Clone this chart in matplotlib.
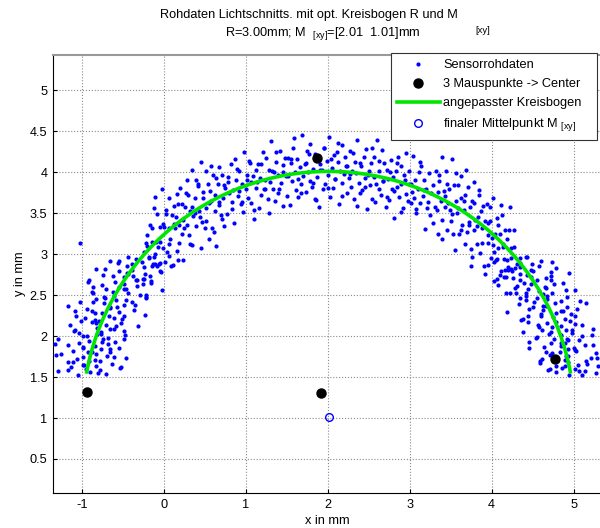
import matplotlib.pyplot as plt
from matplotlib.patches import Arc
from matplotlib.lines import Line2D

plt.rcParams['font.family'] = ['Liberation Sans', 'DejaVu Sans']
plt.rcParams['mathtext.fontset'] = 'custom'
plt.rcParams['mathtext.rm'] = 'Liberation Sans'
plt.rcParams['mathtext.it'] = 'Liberation Sans'
plt.rcParams['axes.unicode_minus'] = False

# raw sensor points
left_x = [-1.05, -0.70, -0.90, -1.29, -0.78, -0.95, -0.53, -1.13, -0.83, -0.99, -0.63, -1.17, -0.91, -0.78, -1.06,
          -0.46, -0.99, -0.69, -1.31, -0.82, -0.92, -0.66, -1.11, -0.76, -0.54, -0.99, -0.84, -1.17, -0.68, -1.03,
          -0.59, -0.91, -0.74, -1.29, -0.68, -0.93, -0.47, -0.81, -1.03, -0.76, -0.49, -1.08, -0.66, -0.81, -0.58,
          -1.14, -0.70, -0.52, -0.88, -0.79,
          -0.84, -0.51, -0.96, -0.67, -1.07, -0.23, -0.75, -0.55, -0.88, -0.36, -0.94, -0.65, -0.57, -1.17, -0.48,
          -0.73, -0.39, -1.02, -0.58, -0.82, -0.21, -0.73, -0.60, -0.29, -0.86, -0.44, -0.62, -0.02, -0.70, -0.46,
          -0.86, -0.32, -0.75, -0.48, -0.15, -0.59, -0.33, -0.91, -0.24, -0.49, -0.37, -0.74, -0.23, -0.45, -0.03,
          -0.55, -0.39, -0.83, -0.24, -0.08, -0.45, -0.11, -0.56, -0.27, -0.65, 0.18, -0.34, -0.12, -0.44, 0.07,
          -1.02,
          -0.80, -1.17, -0.52, -0.97, -1.10, -0.84, -0.61, -1.25, -0.88, -0.65, -0.98, -1.32, -0.75, -0.49, -0.99,
          -0.76, -1.09, -0.60, -0.31, -0.83, -1.01, -0.61, -0.48, -0.84, -1.08, -0.66, -0.35, -0.86, -0.46, -0.71,
          -0.21, -0.88, -0.48, -0.55, -0.25, -0.92, -0.34, -0.62, -0.43, -0.05, -0.72, -0.14, -0.39, -0.54, -0.18]
left_y = [1.53, 1.54, 1.56, 1.57, 1.58, 1.60, 1.61, 1.62, 1.64, 1.65, 1.66, 1.68, 1.69, 1.70, 1.72,
          1.73, 1.74, 1.76, 1.77, 1.78, 1.80, 1.81, 1.82, 1.84, 1.85, 1.86, 1.88, 1.89, 1.90, 1.92,
          1.93, 1.94, 1.96, 1.97, 1.98, 2.00, 2.01, 2.02, 2.04, 2.05, 2.06, 2.08, 2.09, 2.10, 2.12,
          2.13, 2.14, 2.16, 2.17, 2.18,
          2.20, 2.21, 2.22, 2.24, 2.25, 2.26, 2.28, 2.29, 2.30, 2.32, 2.33, 2.34, 2.36, 2.37, 2.38,
          2.40, 2.41, 2.42, 2.44, 2.45, 2.46, 2.48, 2.49, 2.50, 2.52, 2.53, 2.54, 2.56, 2.57, 2.58,
          2.60, 2.61, 2.62, 2.64, 2.65, 2.66, 2.68, 2.69, 2.70, 2.72, 2.73, 2.74, 2.76, 2.77, 2.78,
          2.80, 2.81, 2.82, 2.84, 2.85, 2.86, 2.88, 2.89, 2.90, 2.92, 2.93, 2.94, 2.96, 2.97, 2.98,
          3.13,
          1.55, 1.59, 1.62, 1.65, 1.68, 1.71, 1.74, 1.78, 1.81, 1.84, 1.87, 1.90, 1.93, 1.97, 2.00,
          2.03, 2.06, 2.09, 2.12, 2.16, 2.19, 2.22, 2.25, 2.28, 2.31, 2.35, 2.38, 2.41, 2.44, 2.47,
          2.50, 2.54, 2.57, 2.60, 2.63, 2.66, 2.69, 2.73, 2.76, 2.79, 2.82, 2.85, 2.88, 2.92, 2.95]

upleft_x = [-0.25, -0.24, -0.22, -0.21, -0.20, -0.18, -0.17, -0.16, -0.14, -0.13, -0.12, -0.10, -0.09, -0.08, -0.06,
            -0.05, -0.04, -0.02, -0.01, 0.00, 0.02, 0.03, 0.04, 0.06, 0.07, 0.08, 0.10, 0.11, 0.12, 0.14,
            0.15, 0.16, 0.18, 0.19, 0.20, 0.22, 0.23, 0.24, 0.26, 0.27, 0.28, 0.30, 0.31, 0.32, 0.34,
            0.35, 0.36, 0.38, 0.39, 0.40, 0.42, 0.43, 0.44, 0.46, 0.47, 0.48, 0.50, 0.51, 0.52, 0.54,
            0.55, 0.56, 0.58, 0.59, 0.60, 0.62, 0.63, 0.64, 0.66, 0.67, 0.68, 0.70, 0.71, 0.72, 0.74,
            -0.20, -0.17, -0.14, -0.10, -0.07, -0.04, -0.01, 0.03, 0.06, 0.09, 0.12, 0.16, 0.19, 0.22, 0.25,
            0.29, 0.32, 0.35, 0.38, 0.42, 0.45, 0.48, 0.51, 0.55, 0.58, 0.61, 0.64, 0.68, 0.71, 0.74]
upleft_y = [2.70, 3.02, 3.13, 2.48, 3.23, 2.97, 3.35, 2.67, 3.15, 2.88, 3.56, 3.00, 3.15, 3.49, 2.88,
            3.33, 3.15, 3.80, 3.07, 3.33, 2.90, 3.49, 3.02, 3.32, 3.69, 3.19, 3.48, 2.87, 3.59, 3.32,
            3.45, 3.04, 3.61, 3.36, 3.81, 3.25, 3.42, 2.93, 3.58, 3.75, 3.35, 3.72, 3.23, 3.53, 3.11,
            4.03, 3.46, 3.69, 3.34, 3.90, 3.83, 3.53, 3.45, 4.13, 3.39, 3.68, 3.32, 4.02, 3.56, 3.85,
            3.19, 3.77, 3.65, 3.32, 3.96, 3.53, 3.72, 3.10, 3.85, 3.60, 4.06, 3.48, 3.96, 3.69, 3.34,
            3.10, 2.73, 3.32, 3.70, 3.09, 2.89, 3.37, 3.54, 3.12, 2.86, 3.37, 3.73, 3.14, 3.61, 3.32,
            3.91, 3.12, 3.58, 3.50, 3.86, 3.07, 3.76, 3.41, 3.63, 4.07, 3.27, 3.93, 3.64, 3.43, 3.84]

top_x = [0.75, 0.77, 0.79, 0.80, 0.82, 0.83, 0.85, 0.86, 0.88, 0.89, 0.91, 0.92, 0.94, 0.95, 0.97,
         0.98, 1.00, 1.01, 1.03, 1.04, 1.06, 1.07, 1.09, 1.10, 1.12, 1.13, 1.15, 1.16, 1.18, 1.19,
         1.21, 1.22, 1.24, 1.25, 1.27, 1.28, 1.30, 1.31, 1.33, 1.34, 1.36, 1.37, 1.39, 1.40, 1.42,
         1.43, 1.45, 1.46, 1.48, 1.49,
         1.51, 1.52, 1.54, 1.55, 1.57, 1.58, 1.60, 1.61, 1.63, 1.64, 1.66, 1.67, 1.69, 1.70, 1.72,
         1.73, 1.75, 1.76, 1.78, 1.79, 1.81, 1.82, 1.84, 1.85, 1.87, 1.88, 1.90, 1.91, 1.93, 1.94,
         1.96, 1.97, 1.99, 2.00, 2.02, 2.03, 2.05, 2.06, 2.08, 2.09, 2.11, 2.12, 2.14, 2.15, 2.17,
         2.18, 2.20, 2.21, 2.23, 2.24,
         2.26, 2.27, 2.29, 2.30, 2.32, 2.33, 2.35, 2.36, 2.38, 2.39, 2.41, 2.42, 2.44, 2.45, 2.47,
         2.48, 2.50, 2.51, 2.53, 2.54, 2.56, 2.57, 2.59, 2.60, 2.62, 2.63, 2.65, 2.66, 2.68, 2.69,
         2.71, 2.72, 2.74, 2.75, 2.77, 2.78, 2.80, 2.81, 2.83, 2.84, 2.86, 2.87, 2.89, 2.90, 2.92,
         2.93, 2.95, 2.96, 2.98, 2.99,
         3.01, 3.02, 3.04, 3.05, 3.07, 3.08, 3.10, 3.11, 3.13, 3.14, 3.16, 3.17, 3.19, 3.20, 3.22,
         3.23, 3.25, 3.26, 3.28, 3.29,
         0.78, 0.83, 0.87, 0.92, 0.96, 1.01, 1.05, 1.10, 1.14, 1.19, 1.23, 1.28, 1.32, 1.37, 1.41,
         1.46, 1.50, 1.55, 1.59, 1.64, 1.68, 1.73, 1.77, 1.82, 1.86, 1.91, 1.95, 2.00, 2.04, 2.09,
         2.13, 2.18, 2.22, 2.27, 2.31, 2.36, 2.40, 2.45, 2.49, 2.54, 2.58, 2.63, 2.67, 2.72, 2.76,
         2.81, 2.85, 2.90, 2.94, 2.99, 3.03, 3.08, 3.12, 3.17, 3.21]
top_y = [3.81, 3.49, 3.94, 3.74, 4.10, 3.64, 3.78, 3.38, 3.90, 4.04, 3.71, 4.01, 3.61, 3.86, 3.51,
         4.25, 3.79, 3.96, 3.69, 4.14, 3.63, 3.88, 3.95, 3.43, 4.03, 3.81, 4.10, 3.56, 3.93, 3.72,
         4.25, 3.79, 3.91, 4.17, 3.67, 4.03, 3.88, 4.38, 3.80, 4.00, 3.65, 4.12, 3.75, 3.97, 4.26,
         3.87, 4.09, 3.59, 4.17, 3.95,
         3.95, 4.17, 3.60, 4.11, 3.89, 4.29, 4.00, 3.78, 4.16, 3.70, 4.06, 3.86, 4.45, 3.95, 4.10,
         3.76, 4.26, 4.00, 3.89, 4.35, 3.82, 4.04, 3.67, 4.22, 3.94, 4.16, 3.57, 4.10, 4.03, 3.79,
         4.30, 3.86, 4.14, 3.97, 4.43, 3.70, 4.05, 3.81, 4.21, 3.92, 4.25, 4.12, 3.61, 4.01, 3.87,
         4.33, 3.98, 4.18, 3.74, 4.07,
         3.93, 4.26, 3.82, 4.02, 3.67, 4.12, 3.99, 4.39, 3.87, 3.74, 4.07, 3.78, 4.18, 3.93, 4.28,
         3.55, 4.01, 3.84, 4.11, 3.67, 4.18, 3.94, 3.86, 4.39, 3.80, 4.01, 3.72, 4.27, 3.89, 4.11,
         3.58, 4.03, 3.92, 3.66, 4.15, 3.80, 3.94, 3.44, 4.02, 3.82, 4.18, 3.70, 4.08, 3.86, 3.56,
         3.96, 3.73, 4.23, 3.65, 3.86,
         3.86, 3.63, 4.20, 3.69, 3.91, 3.50, 3.79, 4.00, 3.62, 4.08, 3.71, 3.91, 3.31, 3.80, 3.64,
         3.99, 3.48, 3.74, 3.84, 3.38,
         3.88, 3.55, 4.16, 3.77, 3.64, 3.90, 4.11, 3.54, 3.88, 4.10, 3.80, 3.50, 4.02, 4.25, 3.80,
         4.00, 3.71, 4.16, 4.42, 3.92, 3.75, 4.11, 4.22, 3.87, 3.66, 4.03, 4.30, 3.81, 4.16, 3.92,
         4.36, 3.71, 4.07, 3.98, 4.24, 3.59, 4.11, 3.82, 3.97, 4.29, 3.64, 4.14, 3.89, 3.70, 4.00,
         3.77, 4.11, 3.51, 3.90, 4.02, 3.76, 3.55, 4.13, 3.78, 3.56]

upright_x = [3.31, 3.32, 3.34, 3.35, 3.36, 3.38, 3.39, 3.40, 3.42, 3.43, 3.44, 3.46, 3.47, 3.48, 3.50,
             3.51, 3.52, 3.54, 3.55, 3.56, 3.58, 3.59, 3.60, 3.62, 3.63, 3.64, 3.66, 3.67, 3.68, 3.70,
             3.71, 3.72, 3.74, 3.75, 3.76, 3.78, 3.79, 3.80, 3.82, 3.83, 3.84, 3.86, 3.87, 3.88, 3.90,
             3.91, 3.92, 3.94, 3.95, 3.96, 3.98, 3.99, 4.00, 4.02, 4.03, 4.04, 4.06, 4.07, 4.08, 4.10,
             4.11, 4.12, 4.14, 4.15, 4.16, 4.18, 4.19, 4.20, 4.22, 4.23, 4.24, 4.26, 4.27, 4.28, 4.30,
             3.33, 3.36, 3.40, 3.43, 3.46, 3.49, 3.53, 3.56, 3.59, 3.62, 3.66, 3.69, 3.72, 3.75, 3.79,
             3.82, 3.85, 3.88, 3.92, 3.95, 3.98, 4.01, 4.05, 4.08, 4.11, 4.14, 4.18, 4.21, 4.24, 4.27]
upright_y = [3.58, 4.02, 3.76, 3.25, 3.89, 3.65, 4.18, 3.42, 3.77, 3.57, 4.01, 3.30, 3.63, 3.79, 3.41,
             4.16, 3.49, 3.84, 3.05, 3.65, 3.50, 3.84, 3.24, 3.68, 3.95, 3.35, 3.54, 3.12, 3.72, 3.27,
             3.82, 3.39, 3.57, 2.86, 3.65, 3.29, 3.88, 3.42, 3.12, 3.45, 3.78, 3.01, 3.53, 3.32, 3.59,
             2.85, 3.40, 3.61, 3.13, 3.23, 3.41, 2.95, 3.20, 3.69, 3.03, 3.25, 2.70, 3.44, 3.07, 3.24,
             2.79, 3.48, 3.12, 2.94, 3.30, 2.52, 3.18, 2.81, 3.57, 2.95, 3.08, 2.71, 3.29, 2.83, 2.53,
             3.54, 3.97, 3.19, 3.71, 3.86, 3.54, 3.25, 3.99, 3.56, 3.29, 3.65, 4.03, 3.36, 3.06, 3.63,
             3.34, 3.72, 3.13, 2.76, 3.38, 3.58, 3.11, 2.93, 3.35, 3.60, 3.09, 2.72, 3.30, 2.82, 3.09]

right_x = [5.10, 4.94, 5.27, 4.78, 5.14, 4.69, 5.02, 4.86, 5.30, 4.79, 5.05, 4.59, 4.93, 5.15, 4.89,
           4.61, 5.21, 4.79, 4.93, 4.71, 5.27, 4.83, 4.66, 5.02, 4.93, 5.00, 4.64, 4.84, 5.23, 4.72,
           4.89, 4.46, 5.06, 4.76, 4.92, 4.55, 5.10, 4.84, 4.70, 4.98, 4.38, 4.91, 4.61, 5.23, 4.73,
           4.84, 4.57, 5.02, 4.67, 4.44,
           4.96, 4.36, 4.89, 4.75, 4.44, 5.02, 4.60, 4.78, 4.19, 4.87, 4.63, 5.04, 4.50, 4.92, 4.66,
           4.33, 4.77, 4.51, 5.08, 4.42, 4.67, 4.55, 4.92, 4.42, 4.63, 4.22, 4.74, 4.58, 5.02, 4.44,
           4.28, 4.65, 4.31, 4.76, 4.48, 4.87, 4.03, 4.55, 4.35, 4.66, 4.15, 4.72, 4.43, 4.35, 4.94,
           4.25, 4.50, 4.16, 4.78, 4.34, 4.58, 3.96, 4.49, 4.35, 4.03, 4.60, 4.19, 4.35, 3.76, 4.43,
           5.06, 4.71, 4.89, 5.16, 4.59, 5.28, 4.91, 4.73, 5.03, 4.45, 5.14, 4.85, 4.93, 4.54, 5.22,
           4.72, 4.98, 4.58, 5.10, 4.79, 4.38, 4.60, 4.97, 4.84, 4.45, 4.62, 5.15, 4.84, 4.34, 4.67,
           4.42, 4.91, 4.66, 4.08, 4.40, 4.72, 4.48, 4.10, 4.72, 4.48, 4.20, 4.31, 4.74, 4.07, 4.42]
right_y = [1.52, 1.53, 1.55, 1.56, 1.57, 1.59, 1.60, 1.61, 1.63, 1.64, 1.65, 1.67, 1.68, 1.69, 1.71,
           1.72, 1.73, 1.75, 1.76, 1.77, 1.79, 1.80, 1.81, 1.83, 1.84, 1.85, 1.87, 1.88, 1.89, 1.91,
           1.92, 1.93, 1.95, 1.96, 1.97, 1.99, 2.00, 2.01, 2.03, 2.04, 2.05, 2.07, 2.08, 2.09, 2.11,
           2.12, 2.13, 2.15, 2.16, 2.17,
           2.19, 2.20, 2.21, 2.23, 2.24, 2.25, 2.27, 2.28, 2.29, 2.31, 2.32, 2.33, 2.35, 2.36, 2.37,
           2.39, 2.40, 2.41, 2.43, 2.44, 2.45, 2.47, 2.48, 2.49, 2.51, 2.52, 2.53, 2.55, 2.56, 2.57,
           2.59, 2.60, 2.61, 2.63, 2.64, 2.65, 2.67, 2.68, 2.69, 2.71, 2.72, 2.73, 2.75, 2.76, 2.77,
           2.79, 2.80, 2.81, 2.83, 2.84, 2.85, 2.87, 2.88, 2.89, 2.91, 2.92, 2.93, 2.95, 2.96, 2.97,
           1.57, 1.60, 1.63, 1.66, 1.70, 1.73, 1.76, 1.79, 1.82, 1.86, 1.89, 1.92, 1.95, 1.98, 2.01,
           2.05, 2.08, 2.11, 2.14, 2.17, 2.21, 2.24, 2.27, 2.30, 2.33, 2.37, 2.40, 2.43, 2.46, 2.49,
           2.53, 2.56, 2.59, 2.62, 2.65, 2.68, 2.72, 2.75, 2.78, 2.81, 2.84, 2.88, 2.91, 2.94, 2.97]

# mouse clicks (3 on the arc + the center they give)
mouse_x = [-0.93, 1.87, 4.77, 1.92]
mouse_y = [1.32, 4.17, 1.72, 1.31]

# fitted circle
center_x, center_y = 2.01, 1.01
radius = 3.0
arc_from, arc_to = 10.2, 169.8   # degrees

sensor_x = left_x + upleft_x + top_x + upright_x + right_x
sensor_y = left_y + upleft_y + top_y + upright_y + right_y

FS = 9.2

fig = plt.figure(figsize=(6, 5.28), dpi=100)
# axes runs a little past the right edge, like the cropped original
ax = fig.add_axes([0.0883, 0.0663, 0.9157, 0.8295])

ax.plot(sensor_x, sensor_y, '.', color='#0000ff', markersize=4.0, zorder=3)
ax.plot(mouse_x, mouse_y, 'o', color='black', markersize=6.5, zorder=4)
ax.add_patch(Arc((center_x, center_y), 2 * radius, 2 * radius, theta1=arc_from, theta2=arc_to,
                 color='#00e600', lw=2.6, zorder=5))
ax.plot([center_x], [center_y], 'o', mfc='none', mec='#0000ff', mew=1.0, markersize=5.5, zorder=6)

ax.set_xlim(-1.35, 5.35)
ax.set_ylim(0.085, 5.43)
ax.set_xticks([-1, 0, 1, 2, 3, 4, 5])
ax.set_yticks([0.5, 1, 1.5, 2, 2.5, 3, 3.5, 4, 4.5, 5])
ax.set_yticklabels(['0.5', '1', '1.5', '2', '2.5', '3', '3.5', '4', '4.5', '5'])
ax.tick_params(direction='in', length=3, labelsize=FS, pad=4)
ax.grid(True, linestyle=':', color='#8a8a8a', linewidth=0.8)
ax.spines['top'].set_color('#999999')
ax.spines['top'].set_linewidth(1.5)
ax.set_xlabel('x in mm', fontsize=FS, labelpad=3)
ax.set_ylabel('y in mm', fontsize=FS, labelpad=3)

fig.text(0.515, 0.9716, 'Rohdaten Lichtschnitts. mit opt. Kreisbogen R und M',
         ha='center', va='center', fontsize=FS)
fig.text(0.805, 0.943, '[xy]', ha='center', va='center', fontsize=6.8)
fig.text(0.5375, 0.937, 'R=3.00mm; M  $_{\\mathrm{[xy]}}$=[2.01  1.01]mm',
         ha='center', va='center', fontsize=FS)

handles = [
    Line2D([], [], ls='none', marker='.', color='#0000ff', markersize=4.0),
    Line2D([], [], ls='none', marker='o', color='black', markersize=6.5),
    Line2D([], [], color='#00e600', lw=2.6),
    Line2D([], [], ls='none', marker='o', mfc='none', mec='#0000ff', mew=1.0, markersize=5.5),
]
labels = ['Sensorrohdaten', '3 Mauspunkte -> Center', 'angepasster Kreisbogen',
          'finaler Mittelpunkt M $_{\\mathrm{[xy]}}$']
leg = ax.legend(handles, labels, loc='upper left', bbox_to_anchor=(0.6517, 0.8996, 0.3433, 0),
                bbox_transform=fig.transFigure, mode='expand', fontsize=FS, fancybox=False,
                framealpha=1, edgecolor='#333333', borderaxespad=0, handlelength=3.3,
                handletextpad=0.3, labelspacing=0.55, borderpad=0.5)
leg.get_frame().set_linewidth(0.8)

fig.savefig('out.png', dpi=100)
